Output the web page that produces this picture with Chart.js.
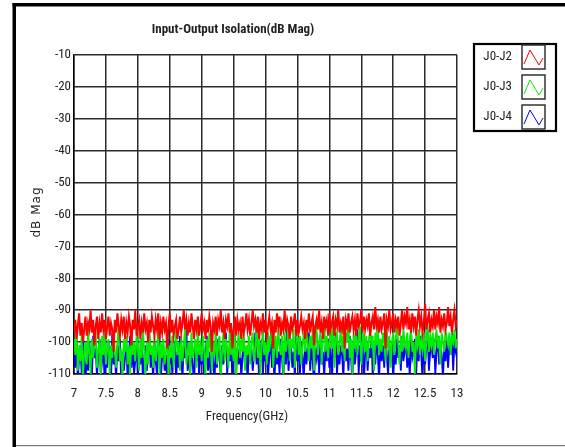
<!DOCTYPE html>
<html><head><meta charset="utf-8">
<script src="https://cdn.jsdelivr.net/npm/chart.js@4.4.0/dist/chart.umd.min.js"></script>
<style>html,body{margin:0;padding:0;background:#fff;}#wrap{width:565px;height:447px;position:relative;}</style>
</head><body><div id="wrap"><canvas id="c" width="565" height="447"></canvas></div>
<script>
const seriesNames = ['J0-J2', 'J0-J3', 'J0-J4'];
const seriesColors = ['#ff0000', '#00ee00', '#0000ff'];
const freqStart = 7, freqStep = 0.02;
const j2 = [
-97,-93,-99,-95,-91,-98,-94,-100,-96,-92,
-98,-94,-96,-90,-97,-93,-101,-95,-92,-99,
-94,-97,-91,-96,-93,-99,-95,-92,-98,-94,
-96,-103,-93,-97,-91,-95,-98,-93,-96,-92,
-99,-94,-97,-92,-95,-101,-93,-96,-90,-98,
-95,-93,-99,-94,-97,-91,-96,-94,-100,-93,
-97,-92,-95,-98,-93,-96,-91,-99,-94,-97,
-92,-96,-94,-102,-95,-91,-97,-93,-98,-95,
-93,-99,-96,-92,-97,-94,-90,-96,-93,-98,
-94,-97,-91,-95,-99,-93,-96,-92,-98,-95,
-91,-96,-94,-99,-93,-97,-92,-95,-103,-94,
-96,-92,-98,-93,-95,-90,-97,-94,-99,-93,
-95,-91,-97,-94,-102,-96,-92,-98,-93,-96,
-94,-99,-92,-97,-95,-91,-96,-93,-98,-94,
-90,-95,-93,-97,-92,-99,-94,-96,-91,-97,
-93,-98,-95,-92,-96,-94,-102,-93,-97,-91,
-95,-92,-98,-94,-96,-90,-97,-93,-95,-99,
-92,-96,-94,-91,-98,-93,-97,-95,-92,-96,
-94,-99,-93,-96,-91,-97,-94,-92,-101,-95,
-93,-96,-90,-97,-94,-99,-92,-95,-93,-98,
-91,-96,-94,-92,-98,-93,-95,-90,-97,-94,
-96,-92,-102,-93,-95,-91,-97,-94,-92,-96,
-93,-98,-91,-95,-94,-90,-97,-92,-96,-93,
-95,-91,-98,-94,-92,-96,-89,-95,-93,-97,
-92,-96,-94,-91,-102,-93,-95,-90,-96,-94,
-91,-97,-93,-95,-92,-98,-94,-90,-96,-92,
-94,-89,-96,-93,-97,-91,-95,-92,-98,-93,
-90,-95,-92,-97,-94,-88,-96,-93,-91,-97,
-93,-95,-90,-96,-92,-94,-89,-97,-93,-95,
-91,-96,-94,-89,-95,-92,-97,-93,-90,-95,
-93];
const j3 = [
-99,-104,-97,-109,-101,-106,-98,-112,-103,-100,
-107,-96,-104,-110,-99,-105,-101,-97,-108,-102,
-100,-111,-98,-104,-96,-107,-102,-99,-110,-101,
-105,-97,-103,-108,-100,-95,-106,-102,-112,-99,
-103,-98,-107,-101,-110,-97,-104,-100,-106,-98,
-102,-109,-99,-105,-96,-103,-111,-100,-107,-97,
-104,-101,-108,-98,-106,-102,-96,-110,-100,-105,
-99,-107,-103,-97,-112,-101,-105,-98,-108,-102,
-96,-104,-100,-109,-98,-106,-101,-95,-107,-103,
-100,-110,-97,-105,-102,-99,-108,-96,-104,-101,
-106,-98,-103,-111,-99,-105,-97,-102,-109,-100,
-104,-96,-107,-101,-98,-110,-103,-97,-106,-99,
-102,-108,-95,-104,-100,-106,-98,-112,-101,-97,
-105,-99,-103,-96,-109,-101,-104,-98,-107,-100,
-97,-106,-102,-94,-105,-99,-110,-101,-96,-104,
-100,-107,-97,-103,-99,-95,-108,-102,-98,-105,
-96,-101,-104,-98,-110,-97,-103,-100,-94,-106,
-99,-102,-96,-108,-100,-95,-104,-98,-107,-101,
-97,-103,-94,-100,-106,-98,-102,-96,-109,-99,
-95,-104,-100,-97,-107,-99,-93,-103,-98,-105,
-100,-96,-102,-94,-108,-99,-97,-104,-101,-95,
-103,-98,-106,-97,-100,-94,-105,-99,-110,-97,
-102,-96,-104,-99,-95,-107,-100,-97,-103,-98,
-106,-99,-96,-102,-98,-109,-97,-101,-95,-104,
-99,-103,-97,-100,-106,-96,-102,-98,-108,-100,
-97,-104,-99,-95,-101,-107,-98,-103,-96,-100,
-102,-97,-105,-99,-96,-103,-100,-110,-98,-101,
-96,-104,-99,-102,-97,-106,-100,-95,-103,-98,
-101,-97,-104,-99,-96,-102,-98,-107,-97,-100,
-103,-96,-99,-101,-97,-104,-98,-100,-96,-102,
-99];
const j4 = [
-102,-108,-99,-112,-105,-101,-110,-97,-106,-113,
-103,-109,-100,-107,-112,-98,-105,-102,-111,-104,
-99,-110,-106,-101,-113,-103,-108,-100,-105,-112,
-97,-107,-104,-111,-101,-106,-99,-113,-103,-109,
-105,-100,-112,-104,-98,-108,-102,-110,-106,-101,
-111,-103,-107,-99,-113,-105,-101,-109,-104,-97,
-108,-102,-112,-100,-106,-110,-103,-98,-111,-105,
-101,-109,-104,-113,-99,-107,-102,-110,-105,-100,
-112,-103,-108,-98,-106,-111,-101,-105,-96,-109,
-104,-110,-100,-107,-113,-102,-106,-99,-111,-103,
-107,-101,-112,-105,-98,-109,-103,-110,-100,-106,
-113,-102,-108,-99,-105,-111,-101,-107,-104,-97,
-110,-103,-106,-100,-112,-104,-98,-109,-102,-107,
-101,-111,-105,-99,-108,-103,-113,-100,-106,-102,
-109,-104,-97,-107,-101,-112,-105,-99,-110,-103,
-106,-100,-111,-104,-98,-108,-102,-113,-101,-107,
-103,-110,-99,-105,-112,-100,-107,-96,-109,-104,
-101,-108,-103,-111,-98,-106,-102,-110,-100,-105,
-112,-99,-107,-103,-97,-109,-101,-106,-113,-102,
-105,-100,-110,-98,-107,-103,-111,-101,-106,-99,
-108,-102,-113,-100,-105,-97,-110,-103,-107,-101,
-104,-111,-99,-106,-102,-109,-98,-105,-112,-100,
-107,-103,-96,-110,-101,-106,-99,-113,-104,-100,
-109,-102,-105,-98,-111,-103,-107,-100,-104,-112,
-99,-106,-101,-108,-97,-104,-110,-102,-105,-100,
-112,-103,-107,-99,-105,-101,-109,-98,-106,-103,
-100,-108,-102,-111,-97,-105,-103,-99,-110,-101,
-106,-98,-104,-112,-100,-107,-102,-96,-109,-103,
-101,-105,-99,-110,-103,-98,-107,-100,-104,-111,
-102,-106,-99,-108,-101,-104,-97,-109,-100,-103,
-105];
const xTicks = [7, 7.5, 8, 8.5, 9, 9.5, 10, 10.5, 11, 11.5, 12, 12.5, 13];
const yTicks = [-10, -20, -30, -40, -50, -60, -70, -80, -90, -100, -110];
const lineWidths = [2, 1.8, 1.8];

const FONT = "'Roboto Condensed', 'Open Sans', sans-serif";
function toPoints(arr){ return arr.map((v,i)=>({x: +(freqStart + i*freqStep).toFixed(4), y: v})); }
const allSeries = [j2, j3, j4];

const decor = {
  id: 'decor',
  beforeDraw(chart){
    const ctx = chart.ctx;
    ctx.save(); ctx.fillStyle = '#fff'; ctx.fillRect(0,0,chart.width,chart.height); ctx.restore();
  },
  afterDraw(chart){
    const ctx = chart.ctx;
    ctx.save();
    ctx.fillStyle = '#000';
    ctx.fillRect(12.5, 3, 552.5, 3.5);
    ctx.fillRect(12.5, 3, 3.5, 444);
    ctx.fillStyle = '#777';
    ctx.fillRect(16, 445, 549, 1.2);
    ctx.fillStyle = '#222';
    ctx.textAlign = 'center'; ctx.textBaseline = 'middle';
    ctx.font = "bold 13px " + FONT;
    ctx.fillText('Input-Output Isolation(dB Mag)', 233, 30);
    ctx.font = "13px " + FONT;
    ctx.fillText('Frequency(GHz)', 247, 417);
    ctx.save();
    ctx.translate(37, 212); ctx.rotate(-Math.PI/2);
    ctx.font = "12px 'DejaVu Sans', sans-serif";
    ctx.letterSpacing = '1px';
    ctx.fillText('dB Mag', 0, 0);
    ctx.restore();
    ctx.strokeStyle = '#000'; ctx.lineWidth = 2.2;
    ctx.strokeRect(474, 44, 82, 87);
    const ys = [45, 75, 105];
    for (let i=0;i<3;i++){
      const top = ys[i];
      ctx.fillStyle = '#222'; ctx.textAlign = 'right'; ctx.textBaseline='middle';
      ctx.font = "13px " + FONT;
      ctx.fillText(seriesNames[i], 512, top + 12);
      ctx.strokeStyle = '#333'; ctx.lineWidth = 1.5;
      ctx.strokeRect(522, top, 23, 24);
      ctx.strokeStyle = seriesColors[i]; ctx.lineWidth = 1;
      ctx.beginPath();
      ctx.moveTo(524, top+19); ctx.lineTo(530, top+5); ctx.lineTo(539, top+20); ctx.lineTo(543, top+13);
      ctx.stroke();
    }
    ctx.restore();
  }
};

new Chart(document.getElementById('c'), {
  type: 'line',
  data: {
    datasets: allSeries.map((arr,i)=>({
      label: seriesNames[i], data: toPoints(arr),
      borderColor: seriesColors[i], backgroundColor: seriesColors[i],
      borderWidth: lineWidths[i], pointRadius: 0, tension: 0, fill: false
    }))
  },
  options: {
    responsive: false, animation: false, events: [],
    layout: { padding: { left: 0, top: 55, right: 108, bottom: 0 } },
    plugins: { legend: { display: false }, title: { display: false }, tooltip: { enabled: false } },
    scales: {
      x: {
        type: 'linear', min: 7, max: 13,
        afterFit(s){ s.height = 73; },
        afterBuildTicks(s){ s.ticks = xTicks.map(v=>({value:v})); },
        grid: { color: '#2a2a2a', lineWidth: 1.5, drawTicks: false },
        border: { color: '#000', width: 1.5 },
        ticks: { color: '#222', padding: 12, maxRotation: 0, autoSkip: false, font: { family: FONT, size: 13 },
                 callback: v => String(v) }
      },
      y: {
        min: -110, max: -10,
        afterFit(s){ s.width = 74; },
        afterBuildTicks(s){ s.ticks = yTicks.slice().reverse().map(v=>({value:v})); },
        grid: { color: '#2a2a2a', lineWidth: 1.5, drawTicks: false },
        border: { color: '#000', width: 1.5 },
        ticks: { color: '#222', padding: 3, autoSkip: false, font: { family: FONT, size: 13 },
                 callback: v => String(v) }
      }
    }
  },
  plugins: [decor]
});
</script></body></html>
